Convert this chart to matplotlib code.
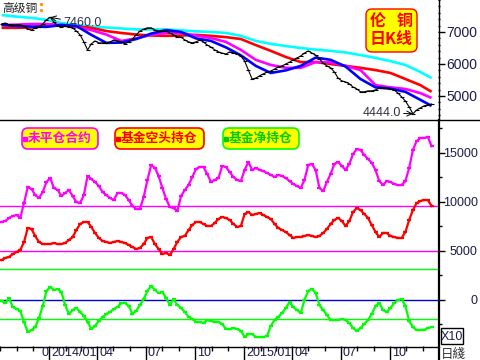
import numpy as np
import pandas as pd
import matplotlib
matplotlib.use('Agg')
import matplotlib.pyplot as plt
from matplotlib.patches import FancyBboxPatch, Rectangle
from matplotlib.ticker import FixedLocator, MultipleLocator
import matplotlib.transforms as mtrans

plt.rcParams['font.family'] = ['Liberation Sans', 'Noto Sans CJK SC', 'DejaVu Sans']
CJK = ['Noto Sans CJK SC', 'DejaVu Sans']

# ---------------- data (weekly samples) ----------------
price = [7250, 7280, 7220, 7220, 7220, 7220, 7190, 7090, 7060, 7130,
         7160, 7250, 7380, 7460, 7310, 7190, 7160, 7190, 7160, 7130,
         7030, 6910, 6690, 6440, 6630, 6720, 6660, 6660, 6660, 6690,
         6750, 6720, 6690, 6630, 6690, 6780, 6910, 7030, 7090, 7130,
         7130, 7060, 7030, 7030, 7030, 6970, 6910, 6840, 6840, 6750,
         6690, 6660, 6690, 6750, 6690, 6590, 6530, 6440, 6380, 6340,
         6310, 6380, 6340, 6310, 6250, 6090, 5810, 5530, 5560, 5630,
         5690, 5750, 5780, 5840, 5910, 5940, 6000, 6060, 6130, 6190,
         6250, 6340, 6410, 6340, 6280, 6160, 6030, 5940, 5880, 5750,
         5560, 5470, 5440, 5380, 5280, 5220, 5130, 5130, 5160, 5160,
         5190, 5250, 5250, 5250, 5220, 5190, 5090, 4970, 4840, 4660,
         4444, 4560, 4630, 4690, 4720, 4750]

open_interest = [7960, 8060, 8370, 8570, 8670, 8370, 9900, 11530, 11330, 10710,
                 10410, 11020, 12040, 12450, 11430, 11220, 10610, 10920, 11220, 10610,
                 10000, 9900, 10710, 12650, 12350, 12040, 11630, 11020, 10710, 10410,
                 10200, 10920, 10920, 10710, 10200, 9590, 9290, 9290, 10510, 12240,
                 13780, 13470, 12650, 11430, 10310, 9490, 9390, 9080, 10610, 11220,
                 11730, 12550, 13370, 13570, 13570, 12860, 12040, 12240, 12450, 13670,
                 13570, 13060, 12550, 12240, 12140, 13270, 14080, 13270, 13470, 13270,
                 13160, 12960, 12760, 12550, 12760, 12650, 12450, 12140, 11840, 11630,
                 11430, 12240, 13780, 13880, 13270, 11430, 11120, 12040, 12860, 13880,
                 14080, 13670, 13270, 13880, 14900, 15410, 15310, 14800, 14390, 13980,
                 13270, 12140, 11730, 12140, 12040, 11840, 11730, 11730, 12140, 13470,
                 15310, 16220, 16530, 16530, 16630, 15710]

fund_short = [4080, 4290, 4390, 4690, 4900, 5100, 5920, 7350, 7240, 6530,
              5920, 5710, 5710, 5710, 5820, 5710, 5710, 5820, 6120, 6430,
              7140, 7760, 7960, 7960, 7450, 6840, 6330, 6020, 5920, 5820,
              5920, 6020, 5920, 5820, 5610, 5410, 5200, 5310, 5710, 6330,
              6430, 5710, 5200, 4690, 4800, 4590, 5200, 5920, 6430, 6530,
              7140, 7650, 7960, 7960, 7760, 7550, 7550, 7860, 8270, 8470,
              8370, 8160, 7760, 7450, 7550, 8780, 8980, 8670, 8780, 8880,
              8670, 8470, 8270, 7760, 7350, 7140, 6940, 6630, 6330, 6430,
              6430, 6530, 6630, 6530, 6430, 6530, 6840, 7240, 7760, 8160,
              8370, 8060, 7550, 8060, 8980, 9390, 9180, 8780, 8370, 7650,
              6940, 6430, 6840, 6840, 6530, 6430, 6330, 6330, 6940, 8160,
              9180, 9900, 10100, 10200, 10200, 9590]

fund_net = [-100, -310, 200, -710, -920, -1120, -2240, -3270, -3060, -2760,
            -1840, -610, 920, 1330, 1020, 1120, 820, -510, -1430, -1020,
            -820, -1220, -1630, -2240, -2960, -2650, -2140, -1730, -1430, -1220,
            -920, -710, -310, -310, -610, -1430, -1120, -510, 100, 920,
            1430, 1020, 710, 820, 200, -510, 100, -510, -820, -1220,
            -1730, -1940, -2240, -2240, -2350, -2040, -2140, -2240, -2240, -2450,
            -2960, -2960, -2860, -2960, -3160, -3780, -3470, -3470, -3780, -3780,
            -3780, -3670, -2650, -2040, -1730, -1330, -820, -200, -710, -1020,
            -1330, 0, 920, 1120, 710, -510, -1020, -1530, -2040, -2040,
            -2040, -1940, -2040, -2350, -2860, -3160, -2860, -2450, -2040, -1430,
            -610, -310, -1020, -1220, -820, -310, 0, 100, -610, -2140,
            -2760, -3060, -3060, -3060, -2860, -2760]

# moving averages (sampled every 4 weeks + last week)
ma_cyan = [7530, 7480, 7440, 7380, 7280, 7220, 7170, 7140, 7110, 7080, 7080, 7080, 7050, 7020, 7000,
           6970, 6880, 6720, 6630, 6560, 6500, 6450, 6410, 6360, 6280, 6190, 6090, 5970, 5750, 5560]
ma_red = [7130, 7130, 7140, 7190, 7200, 7170, 7130, 7030, 6970, 6920, 6890, 6880, 6890, 6910, 6880,
          6840, 6780, 6590, 6410, 6220, 6060, 6060, 6000, 5940, 5880, 5810, 5720, 5530, 5340, 5130]
ma_magenta = [7220, 7230, 7250, 7250, 7220, 7160, 7060, 6920, 6720, 6800, 6910, 6970, 6970, 6890, 6810,
              6690, 6440, 6130, 5970, 5880, 5880, 6060, 6050, 5940, 5810, 5340, 5270, 5220, 5090, 4940]
ma_blue = [7220, 7190, 7170, 7160, 7220, 7190, 6910, 6660, 6670, 6780, 6950, 7060, 7000, 6800, 6720,
           6520, 6270, 5940, 5720, 5800, 5940, 6200, 6130, 5920, 5530, 5270, 5230, 5130, 4880, 4690]

oi_levels = [9600, 5050]
net_levels = [3150, -1950]

price_ticks = [5000, 6000, 7000]
pos_ticks = [0, 5000, 10000, 15000]
quarter_ticks = ['2014-01-01', '2014-04-01', '2014-07-01', '2014-10-01',
                 '2015-01-01', '2015-04-01', '2015-07-01', '2015-10-01']
quarter_labels = ['2014/01', '04', '07', '10', '2015/01', '04', '07', '10']

weeks = pd.date_range('2013-10-04', periods=len(price), freq='7D')
ma_idx = list(range(0, 113, 4)) + [115]
ma_dates = weeks[ma_idx]

# ---------------- figure ----------------
fig = plt.figure(figsize=(4.8, 3.6), dpi=100)
fig.patch.set_facecolor('white')
ax1 = fig.add_axes([0, 1 - 119 / 360, 438 / 480, 119 / 360])
ax2 = fig.add_axes([0, 1 - 346 / 360, 438 / 480, 227 / 360])
x0, x1 = pd.Timestamp('2013-10-01'), pd.Timestamp('2015-12-30')

tick_col = '#1c1c48'
for ax in (ax1, ax2):
    ax.set_xlim(x0, x1)
    for s in ax.spines.values():
        s.set_visible(False)
    ax.set_facecolor('white')

# top panel
ax1.set_ylim(4281, 8000)
ax1.plot(ma_dates, ma_cyan, color='#00ffff', lw=1.9, solid_capstyle='butt')
ax1.plot(ma_dates, ma_red, color='#ff0000', lw=1.9, solid_capstyle='butt')
ax1.plot(ma_dates, ma_magenta, color='#ff00ff', lw=1.9, solid_capstyle='butt')
ax1.plot(ma_dates, ma_blue, color='#0000ff', lw=1.9, solid_capstyle='butt')
ax1.plot(weeks, price, color='black', lw=0.8, marker='_', ms=2.5, mew=0.8)
ax1.set_xticks([])
ax1.yaxis.tick_right()
ax1.yaxis.set_major_locator(FixedLocator(price_ticks))
ax1.yaxis.set_minor_locator(MultipleLocator(200))
ax1.tick_params(axis='y', which='major', length=5, width=1, pad=23.5,
                labelsize=10, labelcolor=tick_col, direction='out')
ax1.tick_params(axis='y', which='minor', length=1.2, width=1)
for lab in ax1.get_yticklabels():
    lab.set_horizontalalignment('right')

imax = int(np.argmax(price))
imin = int(np.argmin(price))
ax1.annotate(f'{price[imax]:.1f}', xy=(weeks[imax], price[imax]), xytext=(13, -6),
             textcoords='offset pixels', ha='left', va='center', fontsize=9,
             color='#303048', arrowprops=dict(arrowstyle='->', color='black', lw=0.7,
                                              shrinkA=0, shrinkB=0))
ax1.annotate(f'{price[imin]:.1f}', xy=(weeks[imin], price[imin]), xytext=(-12, 1),
             textcoords='offset pixels', ha='right', va='center', fontsize=9,
             color='#303048', arrowprops=dict(arrowstyle='->', color='black', lw=0.7,
                                              shrinkA=0, shrinkB=0))

# bottom panel
ax2.set_ylim(-4694, 18469)
for lv in oi_levels:
    ax2.axhline(lv, color='#ff00ff', lw=1)
for lv in net_levels:
    ax2.axhline(lv, color='#00ff00', lw=1)
ax2.axhline(0, color='#0000cc', lw=1)
ax2.plot(weeks, open_interest, color='#ff00ff', lw=1.6, marker='_', ms=3, mew=1.6)
ax2.plot(weeks, fund_short, color='#ff0000', lw=1.6, marker='_', ms=3, mew=1.6)
ax2.plot(weeks, fund_net, color='#00ff00', lw=1.6, marker='_', ms=3, mew=1.6)
ax2.yaxis.tick_right()
ax2.yaxis.set_major_locator(FixedLocator(pos_ticks))
ax2.yaxis.set_minor_locator(MultipleLocator(2500))
ax2.tick_params(axis='y', which='major', length=5, width=1, pad=23.5,
                labelsize=9, labelcolor=tick_col, direction='out')
ax2.tick_params(axis='y', which='minor', length=3, width=1)
for lab in ax2.get_yticklabels():
    lab.set_horizontalalignment('right')

ax2.xaxis.set_major_locator(FixedLocator([matplotlib.dates.date2num(pd.Timestamp(d)) for d in quarter_ticks]))
ax2.xaxis.set_minor_locator(matplotlib.dates.MonthLocator())
ax2.tick_params(axis='x', which='major', length=10, width=1, labelbottom=False)
ax2.tick_params(axis='x', which='minor', length=3.6, width=1)
lab_tr = mtrans.offset_copy(ax2.get_xaxis_transform(), fig=fig, x=2, y=-1, units='dots')
for d, lab in zip(quarter_ticks, quarter_labels):
    ax2.text(pd.Timestamp(d), 0, lab, transform=lab_tr, ha='left', va='top',
             fontsize=9, color=tick_col, clip_on=False)

# ---------------- overlay (pixel coordinates) ----------------
ov = fig.add_axes([0, 0, 1, 1], zorder=10)
ov.set_xlim(0, 480)
ov.set_ylim(360, 0)
ov.axis('off')
ov.patch.set_alpha(0)

ov.plot([0, 480], [119.5, 119.5], color='black', lw=1)
ov.plot([0, 438.5], [346.5, 346.5], color='black', lw=1)
ov.plot([438.5, 438.5], [0, 119.5], color='black', lw=1)
ov.plot([439, 439], [119.5, 360], color='black', lw=1.6)

ov.text(2, 8.5, '高级铜', fontsize=8.5, family=CJK, color='#222222', ha='left', va='center')
ov.plot([41, 41], [4, 10], ls='none', marker='s', ms=1.2, color='#ff9900')
ov.text(41, 353, '0', fontsize=9, color=tick_col, ha='left', va='center')

# title box
ov.add_patch(FancyBboxPatch((366, 9), 51, 43, boxstyle='round,pad=0,rounding_size=6',
                            fc='#ffff00', ec='#ff0000', lw=1))
ov.text(378, 21, '伦', fontsize=11.5, family=CJK, weight='bold', color='#ff0000', ha='center', va='center')
ov.text(405, 21, '铜', fontsize=11.5, family=CJK, weight='bold', color='#ff0000', ha='center', va='center')
ov.text(391.5, 39, '日K线', fontsize=11.5, family=CJK, weight='bold', color='#ff0000', ha='center', va='center')

# legend boxes
legend_items = [(22, 76, '未平仓合约', '#ff00ff', '#ff00ff'),
                (115, 89, '基金空头持仓', '#ff0000', '#ff0000'),
                (223, 76, '基金净持仓', '#00ff00', '#00cc00')]
for lx, lw_, txt, ec, tc in legend_items:
    ov.add_patch(FancyBboxPatch((lx, 128), lw_, 21, boxstyle='round,pad=0,rounding_size=6',
                                fc='#ffff00', ec=ec, lw=1.2))
    ov.plot([lx + 2.5], [138.5], marker='s', ms=2.2, color=tc, ls='none')
    ov.text(lx + 6, 138.5, txt, fontsize=9.2, family=CJK, weight='bold', color=tc,
            ha='left', va='center')

# X10 box and 日线
ov.add_patch(Rectangle((441, 328), 22, 16, fc='white', ec='black', lw=1))
ov.text(452, 336.5, 'X10', fontsize=9, color=tick_col, ha='center', va='center')
ov.text(441, 354, '日綫', fontsize=9, family=CJK, color='#333333', ha='left', va='center')

fig.savefig('out.png', dpi=100)
